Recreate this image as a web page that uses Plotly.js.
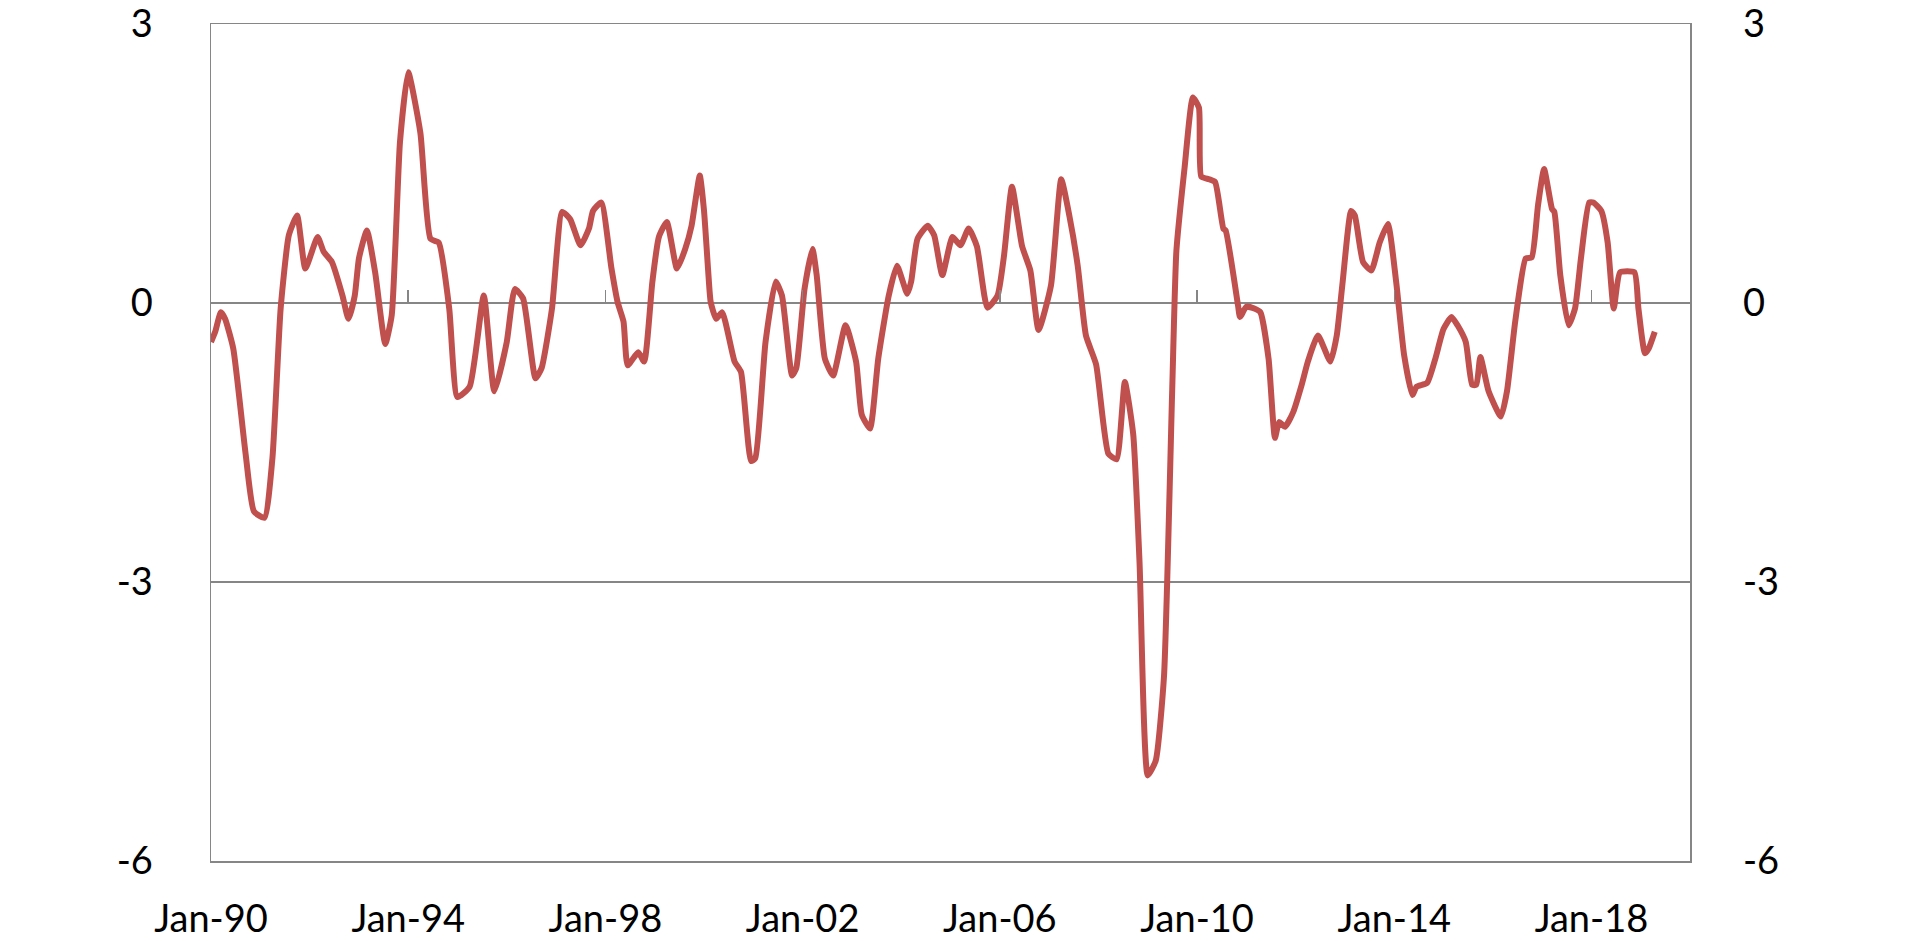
<!DOCTYPE html>
<html>
<head>
<meta charset="utf-8">
<script src="https://cdn.plot.ly/plotly-3.0.1.min.js"></script>
<style>
  html, body { margin: 0; padding: 0; background: #ffffff; }
  #chart { width: 1920px; height: 941px; }
</style>
</head>
<body>
<div id="chart"></div>
<script>
// ---- data ----
const dates = [
  "1990-01-01","1990-02-01","1990-03-15","1990-04-15","1990-06-15","1990-09-15","1990-11-15",
  "1991-02-01","1991-04-01","1991-06-01","1991-08-01","1991-10-01","1991-12-01",
  "1992-03-01","1992-04-15","1992-06-15","1992-09-01","1992-10-15","1992-12-01",
  "1993-01-01","1993-03-01","1993-05-01","1993-07-15","1993-09-01","1993-11-01",
  "1994-01-01","1994-04-01","1994-06-15","1994-08-15","1994-11-01",
  "1995-01-01","1995-04-01","1995-07-15","1995-10-01",
  "1996-01-01","1996-03-01","1996-05-01","1996-08-01","1996-09-15","1996-12-01",
  "1997-02-15","1997-04-15","1997-07-01","1997-09-01","1997-10-01","1997-12-01",
  "1998-02-15","1998-04-01","1998-05-15","1998-06-15","1998-09-01","1998-10-15","1998-12-15",
  "1999-02-01","1999-04-01","1999-06-15","1999-08-15","1999-10-01","1999-12-01",
  "2000-01-01","2000-02-01","2000-02-20","2000-04-01","2000-05-15","2000-08-15","2000-10-01","2000-12-15",
  "2001-01-15","2001-04-01","2001-06-15","2001-08-01","2001-10-15","2001-11-15",
  "2002-01-15","2002-03-15","2002-04-15","2002-06-15","2002-08-15","2002-11-15",
  "2003-02-01","2003-03-15","2003-05-15","2003-07-15","2003-10-01","2003-12-01",
  "2004-02-15","2004-03-15","2004-05-01","2004-07-15","2004-09-01","2004-11-01",
  "2005-01-15","2005-03-15","2005-05-15","2005-07-15","2005-10-01","2005-12-15",
  "2006-02-01","2006-04-01","2006-06-15","2006-08-15","2006-10-15",
  "2007-01-15","2007-04-01","2007-06-01","2007-08-01","2007-10-01","2007-12-15",
  "2008-03-15","2008-05-15","2008-07-15","2008-09-15","2008-11-01",
  "2009-01-01","2009-03-01","2009-05-01","2009-07-01","2009-08-01","2009-10-01","2009-12-01",
  "2010-01-15","2010-02-01","2010-04-01","2010-05-15","2010-07-15","2010-08-01","2010-11-01","2010-11-15",
  "2011-01-01","2011-03-01","2011-04-15","2011-06-15","2011-08-01","2011-09-01","2011-10-15","2011-12-15",
  "2012-02-15","2012-04-01","2012-06-15","2012-09-15","2012-11-01","2012-12-15",
  "2013-02-15","2013-03-15","2013-05-15","2013-07-15","2013-09-15","2013-11-15",
  "2014-01-15","2014-03-15","2014-05-15","2014-06-15","2014-09-01","2014-11-01",
  "2015-01-01","2015-03-01","2015-04-15","2015-06-15","2015-08-01","2015-09-01","2015-10-01","2015-12-01",
  "2016-03-01","2016-04-15","2016-06-15","2016-09-01","2016-10-15","2016-12-01",
  "2017-01-15","2017-03-15","2017-04-01","2017-05-15","2017-07-15","2017-09-01","2017-10-15","2017-12-15",
  "2018-01-15","2018-03-15","2018-05-01","2018-06-15","2018-08-01","2018-11-15","2018-12-15",
  "2019-02-01","2019-03-01","2019-04-15"
];
const values = [
  -0.42,-0.31,-0.10,-0.17,-0.49,-1.63,-2.24,
  -2.31,-1.67,-0.06,0.73,0.94,0.37,
  0.71,0.55,0.44,0.08,-0.17,0.08,
  0.48,0.78,0.33,-0.44,-0.13,1.73,
  2.48,1.83,0.69,0.65,-0.06,
  -1.01,-0.90,0.08,-0.95,
  -0.42,0.15,0.05,-0.81,-0.70,-0.06,
  0.98,0.90,0.62,0.80,0.99,1.08,
  0.37,0.01,-0.20,-0.67,-0.53,-0.63,0.23,
  0.71,0.87,0.37,0.58,0.83,1.37,
  1.00,0.35,0.01,-0.17,-0.10,-0.63,-0.74,-1.70,
  -1.67,-0.42,0.23,0.08,-0.78,-0.70,
  0.15,0.58,0.30,-0.60,-0.78,-0.24,
  -0.63,-1.20,-1.35,-0.60,0.08,0.40,
  0.10,0.23,0.69,0.83,0.73,0.30,
  0.71,0.62,0.80,0.61,-0.05,0.08,
  0.51,1.25,0.61,0.35,-0.29,
  0.19,1.33,0.93,0.40,-0.35,-0.66,
  -1.62,-1.68,-0.85,-1.41,-2.79,
  -5.08,-4.92,-4.02,-0.93,0.56,1.46,2.21,
  2.10,1.36,1.33,1.30,0.80,0.78,-0.03,-0.15,
  -0.04,-0.06,-0.10,-0.60,-1.45,-1.28,-1.33,-1.17,
  -0.88,-0.63,-0.35,-0.63,-0.35,0.23,
  0.99,0.94,0.44,0.35,0.65,0.85,
  0.23,-0.56,-0.99,-0.90,-0.86,-0.60,
  -0.28,-0.15,-0.24,-0.42,-0.88,-0.88,-0.58,-0.95,
  -1.22,-0.95,-0.20,0.48,0.49,1.05,
  1.44,1.01,0.98,0.30,-0.24,-0.06,0.48,1.08,
  1.08,0.99,0.65,-0.06,0.33,0.33,-0.06,
  -0.54,-0.49,-0.31
];
const xTickVals = ["1990-01-01","1994-01-01","1998-01-01","2002-01-01","2006-01-01","2010-01-01","2014-01-01","2018-01-01"];
const xTickText = ["Jan-90","Jan-94","Jan-98","Jan-02","Jan-06","Jan-10","Jan-14","Jan-18"];
const xRange = ["1990-01-01","2020-01-01"];
const yTickVals = [3, 0, -3, -6];
const yTickText = ["3", "0", "-3", "-6"];
const yRange = [-6, 3];

// ---- styling ----
const frameColor = "#868686";
const lineColor = "#C0504D";
const fontFamily = "Lato, 'Open Sans', sans-serif";
const zeroPos = (0 - yRange[0]) / (yRange[1] - yRange[0]);

const trace = {
  x: dates, y: values, type: "scatter", mode: "lines",
  line: { color: lineColor, width: 6, shape: "spline", smoothing: 0.5 },
  hoverinfo: "x+y", showlegend: false
};
// empty helper traces so the right-hand axis and the zero-line tick axis get drawn
const rightAxisHelper = { x: [], y: [], xaxis: "x", yaxis: "y2", type: "scatter", mode: "lines", showlegend: false, hoverinfo: "skip" };
const zeroTickHelper = { x: [], y: [], xaxis: "x2", yaxis: "y", type: "scatter", mode: "lines", showlegend: false, hoverinfo: "skip" };

const tickFont = { family: fontFamily, size: 38, color: "#000000" };

const layout = {
  width: 1920, height: 941,
  margin: { l: 211, r: 230, t: 24, b: 80, pad: 0 },
  paper_bgcolor: "#ffffff", plot_bgcolor: "#ffffff",
  font: { family: fontFamily, size: 38, color: "#000000" },
  showlegend: false,
  xaxis: {
    type: "date", range: xRange,
    tickmode: "array", tickvals: xTickVals, ticktext: xTickText,
    ticks: "", showgrid: false, zeroline: false,
    showline: true, mirror: true, linecolor: frameColor, linewidth: 1.5,
    ticklabelstandoff: 24, ticklabeloverflow: "allow",
    tickfont: tickFont
  },
  xaxis2: {
    type: "date", matches: "x", overlaying: "x", anchor: "free", position: zeroPos,
    tickmode: "array", tickvals: xTickVals,
    ticks: "inside", ticklen: 13, tickwidth: 1.5, tickcolor: frameColor,
    showticklabels: false, showgrid: false, zeroline: false, showline: false
  },
  yaxis: {
    range: yRange, tickmode: "array", tickvals: yTickVals, ticktext: yTickText,
    ticks: "", showgrid: true, gridcolor: frameColor, gridwidth: 1.5,
    zeroline: true, zerolinecolor: frameColor, zerolinewidth: 1.5,
    showline: true, mirror: true, linecolor: frameColor, linewidth: 1.5,
    ticklabelstandoff: 49, ticklabeloverflow: "allow",
    tickfont: tickFont
  },
  yaxis2: {
    range: yRange, matches: "y", overlaying: "y", side: "right",
    tickmode: "array", tickvals: yTickVals, ticktext: yTickText,
    ticks: "", showgrid: false, zeroline: false, showline: false,
    ticklabelstandoff: 52, ticklabeloverflow: "allow",
    tickfont: tickFont
  }
};

Plotly.newPlot("chart", [trace, rightAxisHelper, zeroTickHelper], layout, { displayModeBar: false, staticPlot: true });
</script>
</body>
</html>
